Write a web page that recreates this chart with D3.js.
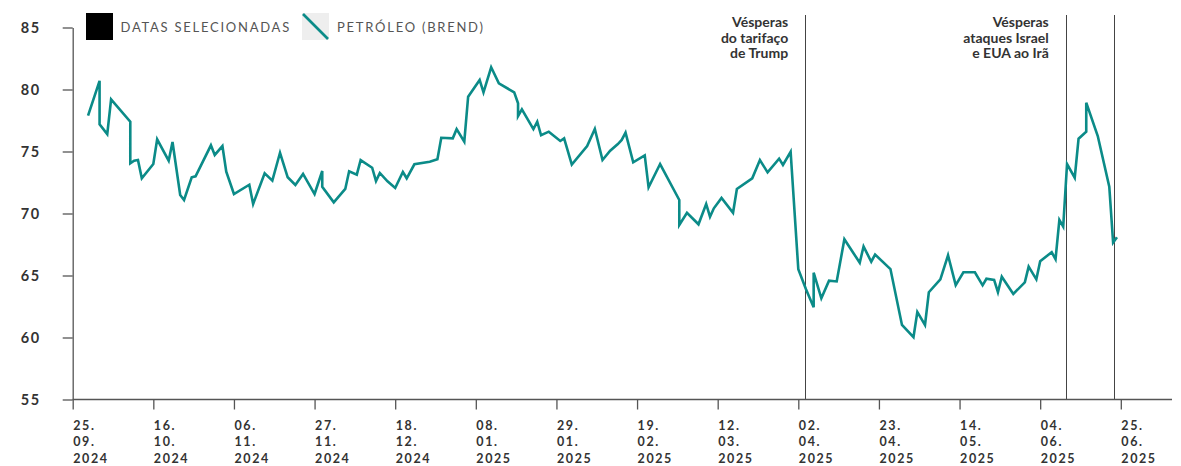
<!DOCTYPE html>
<html>
<head>
<meta charset="utf-8">
<script src="https://cdn.jsdelivr.net/npm/d3@7"></script>
<style>
  body { margin: 0; background: #fff; }
  svg { display: block; font-family: Lato, "Open Sans", sans-serif; }
</style>
</head>
<body>
<div id="chart"></div>
<script>
// Brent prices (date, USD)
var dates = [
  "2024-09-29","2024-10-02","2024-10-02","2024-10-04","2024-10-05","2024-10-10","2024-10-10","2024-10-11",
  "2024-10-12","2024-10-13","2024-10-16","2024-10-17","2024-10-20","2024-10-21","2024-10-23","2024-10-24",
  "2024-10-26","2024-10-27","2024-10-31","2024-11-01","2024-11-03","2024-11-04","2024-11-06","2024-11-10",
  "2024-11-11","2024-11-14","2024-11-16","2024-11-18","2024-11-20","2024-11-22","2024-11-24","2024-11-27",
  "2024-11-29","2024-11-29","2024-12-02","2024-12-05","2024-12-06","2024-12-08","2024-12-09","2024-12-12",
  "2024-12-13","2024-12-14","2024-12-16","2024-12-18","2024-12-20","2024-12-21","2024-12-23","2024-12-27",
  "2024-12-29","2024-12-30","2025-01-02","2025-01-03","2025-01-05","2025-01-06","2025-01-09","2025-01-10",
  "2025-01-12","2025-01-14","2025-01-18","2025-01-19","2025-01-19","2025-01-20","2025-01-23","2025-01-24",
  "2025-01-25","2025-01-27","2025-01-30","2025-01-31","2025-02-02","2025-02-06","2025-02-08","2025-02-10",
  "2025-02-12","2025-02-14","2025-02-15","2025-02-16","2025-02-18","2025-02-21","2025-02-22","2025-02-25",
  "2025-03-02","2025-03-02","2025-03-04","2025-03-07","2025-03-09","2025-03-10","2025-03-11","2025-03-13",
  "2025-03-16","2025-03-17","2025-03-21","2025-03-23","2025-03-25","2025-03-28","2025-03-29","2025-03-31",
  "2025-04-02","2025-04-04","2025-04-06","2025-04-06","2025-04-08","2025-04-10","2025-04-12","2025-04-14",
  "2025-04-18","2025-04-19","2025-04-21","2025-04-22","2025-04-26","2025-04-29","2025-05-02","2025-05-03",
  "2025-05-05","2025-05-06","2025-05-09","2025-05-11","2025-05-13","2025-05-15","2025-05-18","2025-05-20",
  "2025-05-21","2025-05-23","2025-05-24","2025-05-25","2025-05-28","2025-05-31","2025-06-01","2025-06-03",
  "2025-06-04","2025-06-07","2025-06-08","2025-06-09","2025-06-10","2025-06-11","2025-06-13","2025-06-14",
  "2025-06-16","2025-06-16","2025-06-19","2025-06-22","2025-06-23","2025-06-24"
];
var prices = [
  77.9,80.7,77.2,76.4,79.2,77.4,74.05,74.26,
  74.31,72.84,73.99,75.98,74.26,75.77,71.49,71.09,
  72.92,73.0,75.5,74.72,75.44,73.37,71.57,72.32,
  70.77,73.24,72.65,74.9,72.92,72.3,73.19,71.57,
  73.43,72.16,70.9,71.98,73.4,73.13,74.31,73.69,
  72.62,73.27,72.6,72.06,73.35,72.84,73.97,74.18,
  74.37,76.11,76.06,76.8,75.79,79.42,80.77,79.77,
  81.79,80.5,79.77,78.89,77.86,78.4,76.81,77.4,
  76.31,76.6,75.85,76.06,73.94,75.44,76.81,74.31,
  75.06,75.6,75.93,76.52,74.13,74.69,72.11,73.99,
  71.09,69.07,70.06,69.13,70.77,69.74,70.42,71.25,
  70.06,71.98,72.84,74.31,73.32,74.42,73.91,74.98,
  65.5,63.89,62.44,65.23,63.16,64.58,64.52,67.92,
  66.03,67.34,66.11,66.69,65.52,61.01,60.02,62.06,
  61.01,63.65,64.69,66.63,64.23,65.26,65.26,64.21,
  64.74,64.64,63.65,64.9,63.51,64.45,65.71,64.69,
  66.15,66.88,66.31,69.48,68.94,73.99,72.89,76.03,
  76.6,78.94,76.25,72.16,67.65,68.08
];

// selected dates (vertical markers) and their notes
var eventDates = ["2025-04-03T19:00", "2025-06-10T16:00", "2025-06-23T07:00"];
var eventNotes = [
  ["Vésperas", "do tarifaço", "de Trump"],
  ["Vésperas", "ataques Israel", "e EUA ao Irã"],
  []
];

// axis ticks
var yTicks = [55, 60, 65, 70, 75, 80, 85];
var xTickDates = [
  "2024-09-25","2024-10-16","2024-11-06","2024-11-27","2024-12-18","2025-01-08","2025-01-29",
  "2025-02-19","2025-03-12","2025-04-02","2025-04-23","2025-05-14","2025-06-04","2025-06-25"
];
var legendLabels = ["DATAS SELECIONADAS", "PETRÓLEO (BREND)"];

var parse = d3.timeParse("%Y-%m-%d");
var parseEvent = d3.timeParse("%Y-%m-%dT%H:%M");
var data = dates.map(function(d, i) { return {date: parse(d), value: prices[i]}; });

var W = 1181, H = 466;
var teal = "#0b8b88", axisCol = "#555", textCol = "#333";

var svg = d3.select("#chart").append("svg")
    .attr("width", W)
    .attr("height", H);

// scales
var x = d3.scaleTime()
    .domain([parse(xTickDates[0]), parse(xTickDates[xTickDates.length - 1])])
    .range([72.7, 1120.8]);
var y = d3.scaleLinear()
    .domain([55, 85])
    .range([399.5, 27.5]);

// event lines
svg.selectAll(".event")
    .data(eventDates)
  .enter().append("line")
    .attr("class", "event")
    .attr("x1", function(d) { return Math.round(x(parseEvent(d))) + 0.5; })
    .attr("x2", function(d) { return Math.round(x(parseEvent(d))) + 0.5; })
    .attr("y1", 15)
    .attr("y2", 399.5)
    .attr("stroke", "#444")
    .attr("stroke-width", 1);

// event notes
eventDates.forEach(function(d, i) {
  var t = svg.append("text")
      .attr("text-anchor", "end")
      .attr("font-size", "14px")
      .attr("font-weight", 700)
      .attr("fill", textCol);
  eventNotes[i].forEach(function(line, j) {
    t.append("tspan")
        .attr("x", x(parseEvent(d)) - 17)
        .attr("y", 27 + j * 15.5)
        .text(line);
  });
});

// y axis
var yAxis = svg.append("g")
    .attr("transform", "translate(72.7,0)")
    .call(d3.axisLeft(y).tickValues(yTicks).tickSize(10).tickSizeOuter(0).tickPadding(22));
yAxis.select(".domain").attr("stroke", axisCol).attr("stroke-width", 1.3);
yAxis.selectAll(".tick line").attr("stroke", axisCol).attr("stroke-width", 1.3);
yAxis.selectAll(".tick text")
    .attr("font-family", "Lato, sans-serif")
    .attr("font-size", "14.5px")
    .attr("font-weight", 700)
    .attr("letter-spacing", "1.6px")
    .attr("fill", textCol);

// x axis
var xAxis = svg.append("g")
    .attr("transform", "translate(0,399.5)")
    .call(d3.axisBottom(x).tickValues(xTickDates.map(parse)).tickSize(10).tickSizeOuter(0).tickFormat(""));
xAxis.select(".domain").remove();
xAxis.selectAll(".tick line").attr("stroke", axisCol).attr("stroke-width", 1.3);
svg.append("line")
    .attr("x1", 72.7).attr("x2", 1172)
    .attr("y1", 399.5).attr("y2", 399.5)
    .attr("stroke", axisCol).attr("stroke-width", 1.3);

var fmtD = d3.timeFormat("%d."), fmtM = d3.timeFormat("%m."), fmtY = d3.timeFormat("%Y");
xAxis.selectAll(".tick").each(function(d) {
  var t = d3.select(this).append("text")
      .attr("text-anchor", "start")
      .attr("font-family", "Lato, sans-serif")
      .attr("font-size", "12.5px")
      .attr("font-weight", 700)
      .attr("letter-spacing", "1.6px")
      .attr("fill", textCol);
  [fmtD(d), fmtM(d), fmtY(d)].forEach(function(s, j) {
    t.append("tspan").attr("x", 0).attr("y", 30 + j * 16.8).text(s);
  });
});

// price line
var line = d3.line()
    .x(function(d) { return x(d.date); })
    .y(function(d) { return y(d.value); });

svg.append("path")
    .datum(data)
    .attr("fill", "none")
    .attr("stroke", teal)
    .attr("stroke-width", 2.6)
    .attr("stroke-linejoin", "miter")
    .attr("d", line);

// legend
svg.append("rect")
    .attr("x", 86).attr("y", 13).attr("width", 27).attr("height", 27)
    .attr("fill", "#000");
svg.append("rect")
    .attr("x", 302).attr("y", 13).attr("width", 27).attr("height", 27)
    .attr("fill", "#eeeeee");
svg.append("line")
    .attr("x1", 303).attr("y1", 14).attr("x2", 328).attr("y2", 39)
    .attr("stroke", teal).attr("stroke-width", 2.6);

svg.selectAll(".legend")
    .data(legendLabels)
  .enter().append("text")
    .attr("class", "legend")
    .attr("x", function(d, i) { return i === 0 ? 120.5 : 337; })
    .attr("y", 31.5)
    .attr("font-size", "13px")
    .attr("letter-spacing", "1.75px")
    .attr("fill", "#555")
    .text(function(d) { return d; });
</script>
</body>
</html>
